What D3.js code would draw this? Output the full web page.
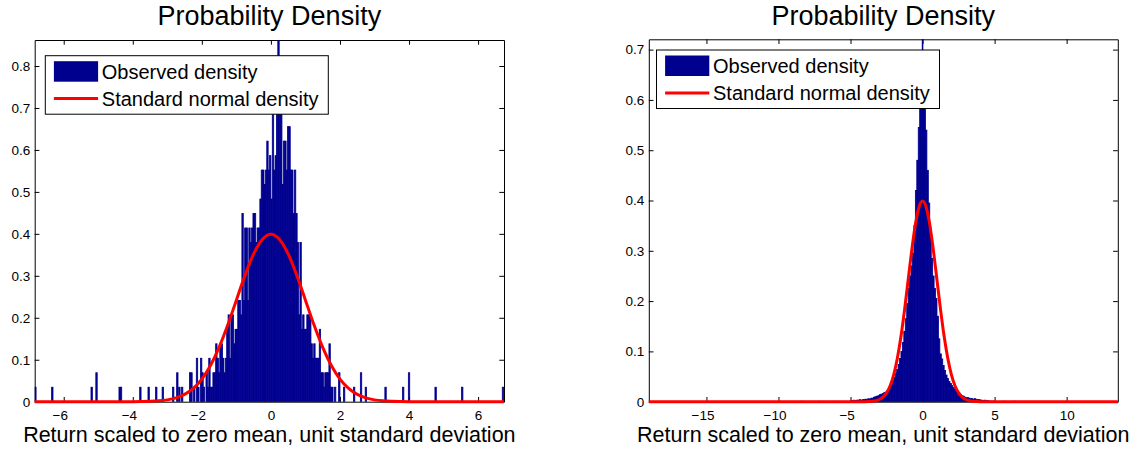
<!DOCTYPE html>
<html>
<head>
<meta charset="utf-8">
<script src="https://cdn.jsdelivr.net/npm/d3@7"></script>
<style>
  html, body { margin: 0; padding: 0; background: #fff; }
  svg { display: block; font-family: "Liberation Sans", Arial, sans-serif; }
  .tick text { fill: #000; }
</style>
</head>
<body>
<svg id="chart" width="1139" height="453"></svg>
<script>

// left panel: observed histogram, counts per bin (1 count = countDensity)
var countDensity = 0.0345;
var leftBinWidth = 0.04;
var leftDenseStart = -2.38;   // centre of first bin
var leftDenseCounts = [
  0, 2, 2, 0, 1, 0, 3, 1, 0, 3,
  2, 1, 0, 2, 1, 3, 1, 1, 2, 2,
  4, 3, 2, 4, 4, 3, 2, 3, 5, 6,
  3, 6, 6, 4, 5, 5, 7, 7, 6, 13,
  7, 12, 12, 7, 12, 11, 12, 13, 13, 11,
  12, 12, 14, 16, 16, 15, 16, 18, 16, 17,
  14, 20, 16, 17, 20, 30, 20, 20, 15, 18,
  18, 16, 19, 19, 16, 16, 13, 16, 13, 11,
  6, 11, 5, 6, 5, 5, 6, 6, 6, 4,
  3, 4, 3, 3, 3, 5, 2, 2, 1, 2,
  2, 2, 4, 1, 1, 0, 1, 0, 0, 2
];
var leftTailX = [-6.82, -6.33, -5.19, -5.05, -4.38, -4.34, -3.78, -3.54, -3.32, -3.13,
                 -2.83, -2.71, -2.65, -2.57, 2.12, 2.41, 2.61, 2.75, 3.32, 3.83,
                 4.0, 4.77, 5.54, 6.72];
var leftTailCount = [1, 1, 1, 2, 1, 1, 1, 1, 1, 1,
                     1, 2, 1, 1, 1, 1, 2, 1, 1, 1,
                     2, 1, 1, 1];

// right panel: observed density per bin
var rightBinWidth = 0.1;
var rightDenseStart = -4.95;
var rightDensity = [
  0.002, 0.002, 0.003, 0.002, 0.003, 0.003, 0.004, 0.003, 0.004, 0.004,
  0.005, 0.004, 0.006, 0.005, 0.007, 0.007, 0.009, 0.010, 0.011, 0.012,
  0.014, 0.015, 0.016, 0.018, 0.019, 0.021, 0.024, 0.028, 0.033, 0.040,
  0.048, 0.056, 0.064, 0.074, 0.086, 0.100, 0.118, 0.140, 0.165, 0.195,
  0.225, 0.250, 0.270, 0.295, 0.350, 0.420, 0.480, 0.545, 0.600, 0.615,
  0.620, 0.605, 0.540, 0.460, 0.395, 0.335, 0.285, 0.250, 0.225, 0.205,
  0.170, 0.125, 0.095, 0.085, 0.072, 0.062, 0.053, 0.046, 0.040, 0.036,
  0.032, 0.028, 0.025, 0.022, 0.020, 0.017, 0.014, 0.012, 0.011, 0.009,
  0.008, 0.008, 0.007, 0.006, 0.006, 0.005, 0.006, 0.004, 0.004, 0.004,
  0.003, 0.003, 0.002, 0.003, 0.002, 0.002, 0.001, 0.001, 0.001, 0.001
];
var rightSpikeX = [0.0, -8.4, -7.2, -6.1, 5.6, 6.4];
var rightSpikeDensity = [0.95, 0.001, 0.001, 0.001, 0.001, 0.001];

// standard normal density, tabulated
var normalX = [0, 0.25, 0.5, 0.75, 1.0, 1.25, 1.5, 1.75, 2.0, 2.25, 2.5, 2.75, 3.0, 3.25, 3.5, 3.75, 4.0, 4.5];
var normalY = [0.3989, 0.3867, 0.3521, 0.3011, 0.2420, 0.1826, 0.1295, 0.0863, 0.0540, 0.0317,
               0.0175, 0.0091, 0.0044, 0.0020, 0.0009, 0.0004, 0.0001, 0.0000];

var leftXTicks = [-6, -4, -2, 0, 2, 4, 6];
var leftYTicks = [0, 0.1, 0.2, 0.3, 0.4, 0.5, 0.6, 0.7, 0.8];
var rightXTicks = [-15, -10, -5, 0, 5, 10];
var rightYTicks = [0, 0.1, 0.2, 0.3, 0.4, 0.5, 0.6, 0.7];

var titleText = "Probability Density";
var xLabelText = "Return scaled to zero mean, unit standard deviation";
var legendLabels = ["Observed density", "Standard normal density"];

var barColor = "#00008f",
    lineColor = "#ff0000";

// build bar lists
var leftBars = [];
leftDenseCounts.forEach(function(c, i){
  if (c > 0) leftBars.push({x: leftDenseStart + i * leftBinWidth, y: c * countDensity, w: leftBinWidth});
});
leftTailX.forEach(function(x, i){
  leftBars.push({x: x, y: leftTailCount[i] * countDensity, w: leftBinWidth});
});

var rightBars = [];
rightDensity.forEach(function(v, i){
  rightBars.push({x: rightDenseStart + i * rightBinWidth, y: v, w: rightBinWidth});
});
rightSpikeX.forEach(function(x, i){
  rightBars.push({x: x, y: rightSpikeDensity[i], w: 0.05});
});

// normal curve points (mirror the table)
function normalPoints(domain){
  var pts = [{x: domain[0], y: 0}];
  for (var i = normalX.length - 1; i > 0; i--) pts.push({x: -normalX[i], y: normalY[i]});
  for (var j = 0; j < normalX.length; j++) pts.push({x: normalX[j], y: normalY[j]});
  pts.push({x: domain[1], y: 0});
  return pts;
}

var panels = [
  {id: "L", left: 34.7, right: 504, top: 40, bottom: 401.7,
   xDomain: [-6.84, 6.75], yDomain: [0, 0.862],
   xTicks: leftXTicks, yTicks: leftYTicks, bars: leftBars,
   legendX: 45.3, legendY: 55.7},
  {id: "R", left: 648.8, right: 1117.8, top: 39.3, bottom: 401.7,
   xDomain: [-19, 13.55], yDomain: [0, 0.7205],
   xTicks: rightXTicks, yTicks: rightYTicks, bars: rightBars,
   legendX: 656.5, legendY: 50}
];

var svg = d3.select("#chart");
var tickLen = 4.7;

panels.forEach(function(p){

  var x = d3.scaleLinear().domain(p.xDomain).range([p.left, p.right]);
  var y = d3.scaleLinear().domain(p.yDomain).range([p.bottom, p.top]);

  var g = svg.append("g");

  g.append("clipPath").attr("id", "clip" + p.id)
    .append("rect")
    .attr("x", p.left).attr("y", p.top)
    .attr("width", p.right - p.left).attr("height", p.bottom - p.top);

  // axes (ticks inward, box on all four sides)
  var fmtY = function(d){ return d === 0 ? "0" : d3.format(".1f")(d); };

  var xAxis = g.append("g")
    .attr("transform", "translate(0," + p.bottom + ")")
    .call(d3.axisBottom(x).tickValues(p.xTicks).tickSize(-tickLen).tickSizeOuter(0).tickPadding(8.5));
  xAxis.selectAll("text")
    .attr("dx", function(d){ return d < 0 ? "-0.29em" : null; });

  g.append("g")
    .attr("transform", "translate(0," + p.top + ")")
    .call(d3.axisTop(x).tickValues(p.xTicks).tickSize(-tickLen).tickSizeOuter(0).tickFormat(""));

  g.append("g")
    .attr("transform", "translate(" + p.left + ",0)")
    .call(d3.axisLeft(y).tickValues(p.yTicks).tickSize(-tickLen).tickSizeOuter(0).tickPadding(4.5).tickFormat(fmtY));

  g.append("g")
    .attr("transform", "translate(" + p.right + ",0)")
    .call(d3.axisRight(y).tickValues(p.yTicks).tickSize(-tickLen).tickSizeOuter(0).tickFormat(""));

  g.selectAll(".domain, .tick line").attr("stroke", "#000").attr("stroke-width", 1);
  g.selectAll(".tick text").attr("font-size", 13.5).attr("font-family", null);

  // histogram bars
  g.append("g").attr("clip-path", "url(#clip" + p.id + ")")
    .selectAll("rect").data(p.bars).enter().append("rect")
    .attr("x", function(d){ return x(d.x - d.w / 2); })
    .attr("width", function(d){ return x(d.x + d.w / 2) - x(d.x - d.w / 2); })
    .attr("y", function(d){ return y(d.y); })
    .attr("height", function(d){ return p.bottom - y(d.y); })
    .attr("fill", barColor)
    .attr("stroke", barColor)
    .attr("stroke-width", 0.8);

  // normal density line
  var line = d3.line()
    .x(function(d){ return x(d.x); })
    .y(function(d){ return y(d.y); })
    .curve(d3.curveMonotoneX);

  g.append("path")
    .datum(normalPoints(p.xDomain))
    .attr("d", line)
    .attr("fill", "none")
    .attr("stroke", lineColor)
    .attr("stroke-width", 3)
    .attr("stroke-linejoin", "round");

  // title and x label
  var cx = (p.left + p.right) / 2;
  g.append("text")
    .attr("x", cx).attr("y", 25)
    .attr("text-anchor", "middle")
    .attr("font-size", 27)
    .text(titleText);

  g.append("text")
    .attr("x", cx).attr("y", 441.7)
    .attr("text-anchor", "middle")
    .attr("font-size", 21.5)
    .text(xLabelText);

  // legend
  var lg = g.append("g").attr("transform", "translate(" + p.legendX + "," + p.legendY + ")");
  lg.append("rect")
    .attr("width", 283).attr("height", 58.5)
    .attr("fill", "#fff").attr("stroke", "#000").attr("stroke-width", 1);
  lg.append("rect")
    .attr("x", 8.6).attr("y", 5.5).attr("width", 44.2).attr("height", 20.5)
    .attr("fill", barColor);
  lg.append("line")
    .attr("x1", 8.6).attr("x2", 52.8).attr("y1", 42.9).attr("y2", 42.9)
    .attr("stroke", lineColor).attr("stroke-width", 3);
  lg.selectAll("text.lab").data(legendLabels).enter().append("text")
    .attr("class", "lab")
    .attr("x", 56.5)
    .attr("y", function(d, i){ return i === 0 ? 23.3 : 50.2; })
    .attr("font-size", 20)
    .text(function(d){ return d; });
});

</script>
</body>
</html>
